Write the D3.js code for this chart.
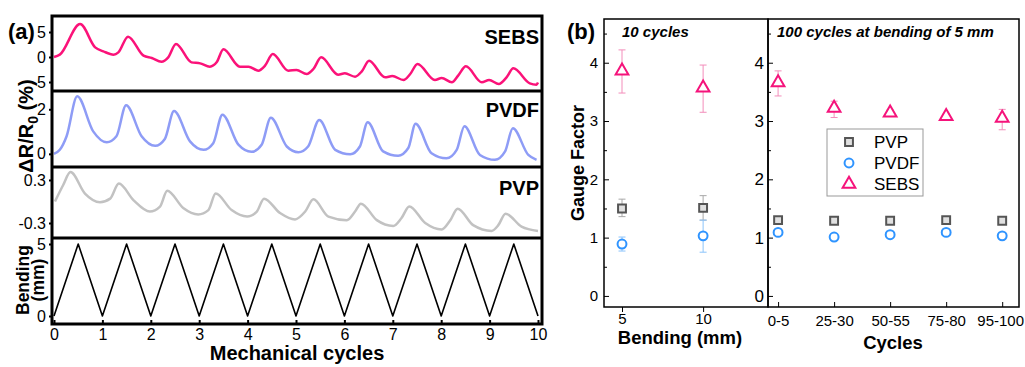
<!DOCTYPE html>
<html>
<head>
<meta charset="utf-8">
<script src="https://d3js.org/d3.v7.min.js"></script>
<style>
body { margin: 0; background: #fff; }
text { font-family: Arial, "Liberation Sans", sans-serif; fill: #000; }
</style>
</head>
<body>
<div id="container"></div>
<script>
// ---------- (a) resistance change traces, [cycle, value] ----------
var sebsCurve = [[0,0],[0.12,0.47],[0.54,6.6],[0.85,1.93],[1.02,1.13],[1.23,0.47],[1.33,0.93],[1.53,4.07],
  [1.85,0.27],[2.02,-0.2],[2.22,-0.93],[2.36,-0.07],[2.52,2.6],[2.84,-1.07],[3.02,-1.27],[3.22,-1.93],
  [3.36,-1.07],[3.5,1.53],[3.84,-1.93],[4.02,-1.93],[4.22,-2.73],[4.36,-1.73],[4.52,0.6],[4.84,-2.73],
  [5.01,-2.6],[5.22,-3.4],[5.36,-2.4],[5.52,-0.07],[5.87,-3.53],[6.01,-3.27],[6.22,-3.93],[6.36,-2.87],
  [6.51,-0.73],[6.84,-4.07],[6.99,-3.8],[7.22,-4.6],[7.36,-3.4],[7.51,-1.4],[7.87,-4.6],[8.01,-4.2],
  [8.22,-5.07],[8.35,-3.73],[8.51,-1.87],[8.84,-5.07],[8.99,-4.6],[9.19,-5.4],[9.35,-4.07],[9.49,-2.27],
  [9.83,-5.27],[9.97,-5.53],[10,-5.1]];

var pvdfCurve = [[0,0],[0.12,0.18],[0.26,0.79],[0.48,2.58],[0.81,1.01],[1.09,0.52],[1.29,0.79],[1.49,2.18],
  [1.81,0.79],[2.09,0.36],[2.29,0.67],[2.48,1.92],[2.81,0.56],[3.09,0.18],[3.29,0.48],[3.48,1.76],
  [3.81,0.41],[4.08,0.09],[4.29,0.41],[4.48,1.62],[4.81,0.33],[5.05,0.07],[5.25,0.33],[5.48,1.52],
  [5.81,0.18],[6.12,-0.02],[6.32,0.33],[6.48,1.42],[6.8,0.11],[7.11,-0.09],[7.32,0.26],[7.47,1.35],
  [7.8,0.03],[8.11,-0.2],[8.32,0.18],[8.48,1.24],[8.8,-0.05],[9.11,-0.27],[9.32,0.11],[9.48,1.15],
  [9.8,-0.05],[9.97,-0.27]];

var pvpCurve = [[0.02,0],[0.19,0.23],[0.34,0.41],[0.64,0.11],[0.95,-0.01],[1.16,0.04],[1.34,0.25],
  [1.64,0.02],[1.98,-0.14],[2.19,-0.07],[2.34,0.15],[2.67,-0.09],[2.98,-0.18],[3.19,-0.12],[3.34,0.11],
  [3.67,-0.12],[3.99,-0.21],[4.19,-0.14],[4.34,0.04],[4.67,-0.16],[4.98,-0.25],[5.19,-0.14],[5.36,0.03],
  [5.67,-0.21],[6.05,-0.26],[6.22,-0.14],[6.34,-0.03],[6.67,-0.26],[7.01,-0.34],[7.18,-0.23],[7.34,-0.07],
  [7.67,-0.3],[8.01,-0.39],[8.18,-0.27],[8.34,-0.1],[8.66,-0.33],[9.04,-0.41],[9.18,-0.33],[9.33,-0.17],
  [9.66,-0.35],[10,-0.41]];

var bendCurve = [[0,0],[0.5,5],[1,0],[1.5,5],[2,0],[2.5,5],[3,0],[3.5,5],[4,0],[4.5,5],[5,0],
  [5.5,5],[6,0],[6.5,5],[7,0],[7.5,5],[8,0],[8.5,5],[9,0],[9.5,5],[10,0]];

var cycleTicks = [0,1,2,3,4,5,6,7,8,9,10];
var sebsTicks = [-5,0,5];
var pvdfTicks = [0,2];
var pvpTicks = [-0.3,0.3];
var bendTicks = [0,5];

// ---------- (b) gauge factor ----------
var bendings = [5, 10];
var pvpBend = [1.50, 1.51];
var pvpBendErr = [[1.36,1.66],[1.30,1.72]];
var pvdfBend = [0.89, 1.03];
var pvdfBendErr = [[0.77,1.01],[0.75,1.30]];
var sebsBend = [3.86, 3.57];
var sebsBendErr = [[3.48,4.22],[3.15,3.96]];

var cycleGroups = ["0-5","25-30","50-55","75-80","95-100"];
var pvpCyc = [1.30,1.29,1.29,1.30,1.29];
var pvpCycErr = [[1.27,1.33],[1.26,1.32],[1.26,1.32],[1.27,1.33],[1.26,1.32]];
var pvdfCyc = [1.09,1.01,1.05,1.09,1.03];
var pvdfCycErr = [[1.06,1.12],[0.98,1.04],[1.02,1.08],[1.06,1.12],[1.00,1.06]];
var sebsCyc = [3.66,3.22,3.14,3.08,3.05];
var sebsCycErr = [[3.43,3.86],[3.06,3.34],[3.08,3.19],[3.04,3.12],[2.85,3.20]];

var gfTicks = [0,1,2,3,4];
var gfMinor = [0.5,1.5,2.5,3.5,4.5];

var svg = d3.select("#container").append("svg")
  .attr("width", 1025)
  .attr("height", 367);

// ================= (a) =================
var xA = d3.scaleLinear().domain([0, 10]).range([54, 538]);

var panels = [
  { label: "SEBS", data: sebsCurve, ticks: sebsTicks, top: 16, bottom: 91, domain: [-6.8, 8.2], color: "#fb1279", w: 2.5, ly: 44 },
  { label: "PVDF", data: pvdfCurve, ticks: pvdfTicks, top: 91, bottom: 167, domain: [-0.59, 2.82], color: "#8e9cf6", w: 2.5, ly: 117 },
  { label: "PVP", data: pvpCurve, ticks: pvpTicks, top: 167, bottom: 238, domain: [-0.509, 0.481], color: "#c2c2c2", w: 2.5, ly: 195 },
  { label: "", data: bendCurve, ticks: bendTicks, top: 238, bottom: 324, domain: [-0.556, 5.417], color: "#000", w: 1.6 }
];

panels.forEach(function(p, i) {
  var y = d3.scaleLinear().domain(p.domain).range([p.bottom, p.top]);

  svg.append("clipPath").attr("id", "clip" + i)
    .append("rect")
    .attr("x", 52).attr("y", p.top).attr("width", 490).attr("height", p.bottom - p.top);

  var line = d3.line()
    .x(function(d) { return xA(d[0]); })
    .y(function(d) { return y(d[1]); })
    .curve(i == 3 ? d3.curveLinear : d3.curveMonotoneX);

  svg.append("path")
    .datum(p.data)
    .attr("clip-path", "url(#clip" + i + ")")
    .attr("d", line)
    .attr("fill", "none")
    .attr("stroke", p.color)
    .attr("stroke-width", p.w)
    .attr("stroke-linejoin", "round");

  var ax = svg.append("g")
    .attr("transform", "translate(52,0)")
    .call(d3.axisLeft(y).tickValues(p.ticks).tickSize(3).tickPadding(3)
      .tickFormat(function(d) { return String(d); }));
  ax.select(".domain").remove();
  ax.selectAll("line").attr("stroke-width", 2);
  ax.selectAll("text").style("font-size", "16px").style("font-family", "Arial, 'Liberation Sans', sans-serif");

  if (p.label) {
    svg.append("text")
      .attr("x", 539).attr("y", p.ly)
      .attr("text-anchor", "end")
      .style("font-size", "20px").style("font-weight", "bold")
      .text(p.label);
  }
});

// bottom axis
var axA = svg.append("g")
  .attr("transform", "translate(0,324)")
  .call(d3.axisBottom(xA).tickValues(cycleTicks).tickSize(-4).tickPadding(5));
axA.select(".domain").remove();
axA.selectAll("line").attr("stroke-width", 2);
axA.selectAll("text").style("font-size", "16px").style("font-family", "Arial, 'Liberation Sans', sans-serif");

// frames
svg.append("rect")
  .attr("x", 52).attr("y", 16).attr("width", 490).attr("height", 308)
  .attr("fill", "none").attr("stroke", "#000").attr("stroke-width", 3);
[91, 167, 238].forEach(function(yy) {
  svg.append("line")
    .attr("x1", 52).attr("x2", 542).attr("y1", yy).attr("y2", yy)
    .attr("stroke", "#000").attr("stroke-width", 3);
});

svg.append("text")
  .attr("x", 297).attr("y", 360)
  .attr("text-anchor", "middle")
  .style("font-size", "20px").style("font-weight", "bold")
  .text("Mechanical cycles");

var dr = svg.append("text")
  .attr("transform", "translate(33,126) rotate(-90)")
  .attr("text-anchor", "middle")
  .style("font-size", "20px").style("font-weight", "bold");
dr.append("tspan").text("\u0394R/R");
dr.append("tspan").attr("dy", 5).style("font-size", "14px").text("0");
dr.append("tspan").attr("dy", -5).text(" (%)");

svg.append("text")
  .attr("transform", "translate(29,280) rotate(-90)")
  .attr("text-anchor", "middle")
  .style("font-size", "17.5px").style("font-weight", "bold")
  .text("Bending");
svg.append("text")
  .attr("transform", "translate(44,280) rotate(-90)")
  .attr("text-anchor", "middle")
  .style("font-size", "17.5px").style("font-weight", "bold")
  .text("(mm)");

svg.append("text")
  .attr("x", 8).attr("y", 39)
  .style("font-size", "22px").style("font-weight", "bold")
  .text("(a)");

// ================= (b) =================
var yB = d3.scaleLinear().domain([-0.19, 4.75]).range([307, 19]);
var xB1 = d3.scaleLinear().domain([3.89, 14.0]).range([604, 768]);
var xB2 = d3.scaleLinear().domain([-0.18, 4.3]).range([768, 1019]);

var seriesB = [
  { name: "PVP", sym: d3.symbolSquare, stroke: "#555", fill: "#e0e0e0", err: "#a8a8a8", bend: pvpBend, bendErr: pvpBendErr, cyc: pvpCyc, cycErr: pvpCycErr },
  { name: "PVDF", sym: d3.symbolCircle, stroke: "#2f94ff", fill: "#fff", err: "#8cc4fb", bend: pvdfBend, bendErr: pvdfBendErr, cyc: pvdfCyc, cycErr: pvdfCycErr },
  { name: "SEBS", sym: d3.symbolTriangle, stroke: "#f5137b", fill: "#fff", err: "#f38dba", bend: sebsBend, bendErr: sebsBendErr, cyc: sebsCyc, cycErr: sebsCycErr }
];

function errBar(g, x, lo, hi, color) {
  g.append("line").attr("x1", x).attr("x2", x).attr("y1", yB(lo)).attr("y2", yB(hi))
    .attr("stroke", color).attr("stroke-width", 1);
  [lo, hi].forEach(function(v) {
    g.append("line").attr("x1", x - 3.5).attr("x2", x + 3.5).attr("y1", yB(v)).attr("y2", yB(v))
      .attr("stroke", color).attr("stroke-width", 1);
  });
}

var gB = svg.append("g");
seriesB.forEach(function(s) {
  bendings.forEach(function(b, i) { errBar(gB, xB1(b), s.bendErr[i][0], s.bendErr[i][1], s.err); });
  cycleGroups.forEach(function(c, i) { errBar(gB, xB2(i), s.cycErr[i][0], s.cycErr[i][1], s.err); });
});
seriesB.forEach(function(s) {
  var sym = d3.symbol().type(s.sym).size(s.name == "SEBS" ? 70 : 62);
  bendings.forEach(function(b, i) {
    gB.append("path").attr("d", sym)
      .attr("transform", "translate(" + xB1(b) + "," + yB(s.bend[i]) + ")")
      .attr("fill", s.fill).attr("stroke", s.stroke).attr("stroke-width", 2);
  });
  cycleGroups.forEach(function(c, i) {
    gB.append("path").attr("d", sym)
      .attr("transform", "translate(" + xB2(i) + "," + yB(s.cyc[i]) + ")")
      .attr("fill", s.fill).attr("stroke", s.stroke).attr("stroke-width", 2);
  });
});

// axes (b)
function styleAxis(ax, size) {
  ax.select(".domain").remove();
  ax.selectAll("text").style("font-size", size).style("font-family", "Arial, 'Liberation Sans', sans-serif");
}
var intFmt = function(d) { return String(d); };
var ay1 = svg.append("g").attr("transform", "translate(604,0)")
  .call(d3.axisLeft(yB).tickValues(gfTicks).tickSize(-5).tickPadding(6).tickFormat(intFmt));
styleAxis(ay1, "15px");
var ay1m = svg.append("g").attr("transform", "translate(604,0)")
  .call(d3.axisLeft(yB).tickValues(gfMinor).tickSize(-3).tickFormat(""));
styleAxis(ay1m, "1px");

var ay2 = svg.append("g").attr("transform", "translate(768,0)")
  .call(d3.axisLeft(yB).tickValues(gfTicks).tickSize(-5).tickPadding(4).tickFormat(intFmt));
styleAxis(ay2, "17px");
var ay2m = svg.append("g").attr("transform", "translate(768,0)")
  .call(d3.axisLeft(yB).tickValues(gfMinor).tickSize(-3).tickFormat(""));
styleAxis(ay2m, "1px");

var ax1 = svg.append("g").attr("transform", "translate(0,307)")
  .call(d3.axisBottom(xB1).tickValues(bendings).tickSize(5).tickPadding(1).tickFormat(intFmt));
styleAxis(ax1, "15px");
var ax2 = svg.append("g").attr("transform", "translate(0,307)")
  .call(d3.axisBottom(xB2).tickValues([0,1,2,3,4]).tickSize(-5).tickPadding(8)
    .tickFormat(function(i) { return cycleGroups[i]; }));
styleAxis(ax2, "15px");
ax2.selectAll(".tick:last-of-type text").attr("x", -2);

svg.append("rect")
  .attr("x", 604).attr("y", 19).attr("width", 164).attr("height", 288)
  .attr("fill", "none").attr("stroke", "#000").attr("stroke-width", 1.5);
svg.append("rect")
  .attr("x", 768).attr("y", 19).attr("width", 251).attr("height", 288)
  .attr("fill", "none").attr("stroke", "#000").attr("stroke-width", 1.5);

svg.append("text")
  .attr("x", 622).attr("y", 37)
  .style("font-size", "15px").style("font-weight", "bold").style("font-style", "italic")
  .text("10 cycles");
svg.append("text")
  .attr("x", 777).attr("y", 37)
  .style("font-size", "15px").style("font-weight", "bold").style("font-style", "italic")
  .text("100 cycles at bending of 5 mm");

svg.append("text")
  .attr("x", 567).attr("y", 39)
  .style("font-size", "22px").style("font-weight", "bold")
  .text("(b)");

svg.append("text")
  .attr("transform", "translate(584,163) rotate(-90)")
  .attr("text-anchor", "middle")
  .style("font-size", "18px").style("font-weight", "bold")
  .text("Gauge Factor");

svg.append("text")
  .attr("x", 680).attr("y", 344)
  .attr("text-anchor", "middle")
  .style("font-size", "18.5px").style("font-weight", "bold")
  .text("Bending (mm)");
svg.append("text")
  .attr("x", 893).attr("y", 349)
  .attr("text-anchor", "middle")
  .style("font-size", "18.5px").style("font-weight", "bold")
  .text("Cycles");

// legend
var leg = svg.append("g");
leg.append("rect")
  .attr("x", 827).attr("y", 129).attr("width", 96).attr("height", 67)
  .attr("fill", "#fff").attr("stroke", "#999").attr("stroke-width", 1);
seriesB.forEach(function(s, i) {
  var cy = 142 + i * 21;
  leg.append("path")
    .attr("d", d3.symbol().type(s.sym).size(s.name == "SEBS" ? 70 : 62))
    .attr("transform", "translate(849," + cy + ")")
    .attr("fill", s.fill).attr("stroke", s.stroke).attr("stroke-width", 2);
  leg.append("text")
    .attr("x", 874).attr("y", cy + 6)
    .style("font-size", "17px")
    .text(s.name);
});
</script>
</body>
</html>
